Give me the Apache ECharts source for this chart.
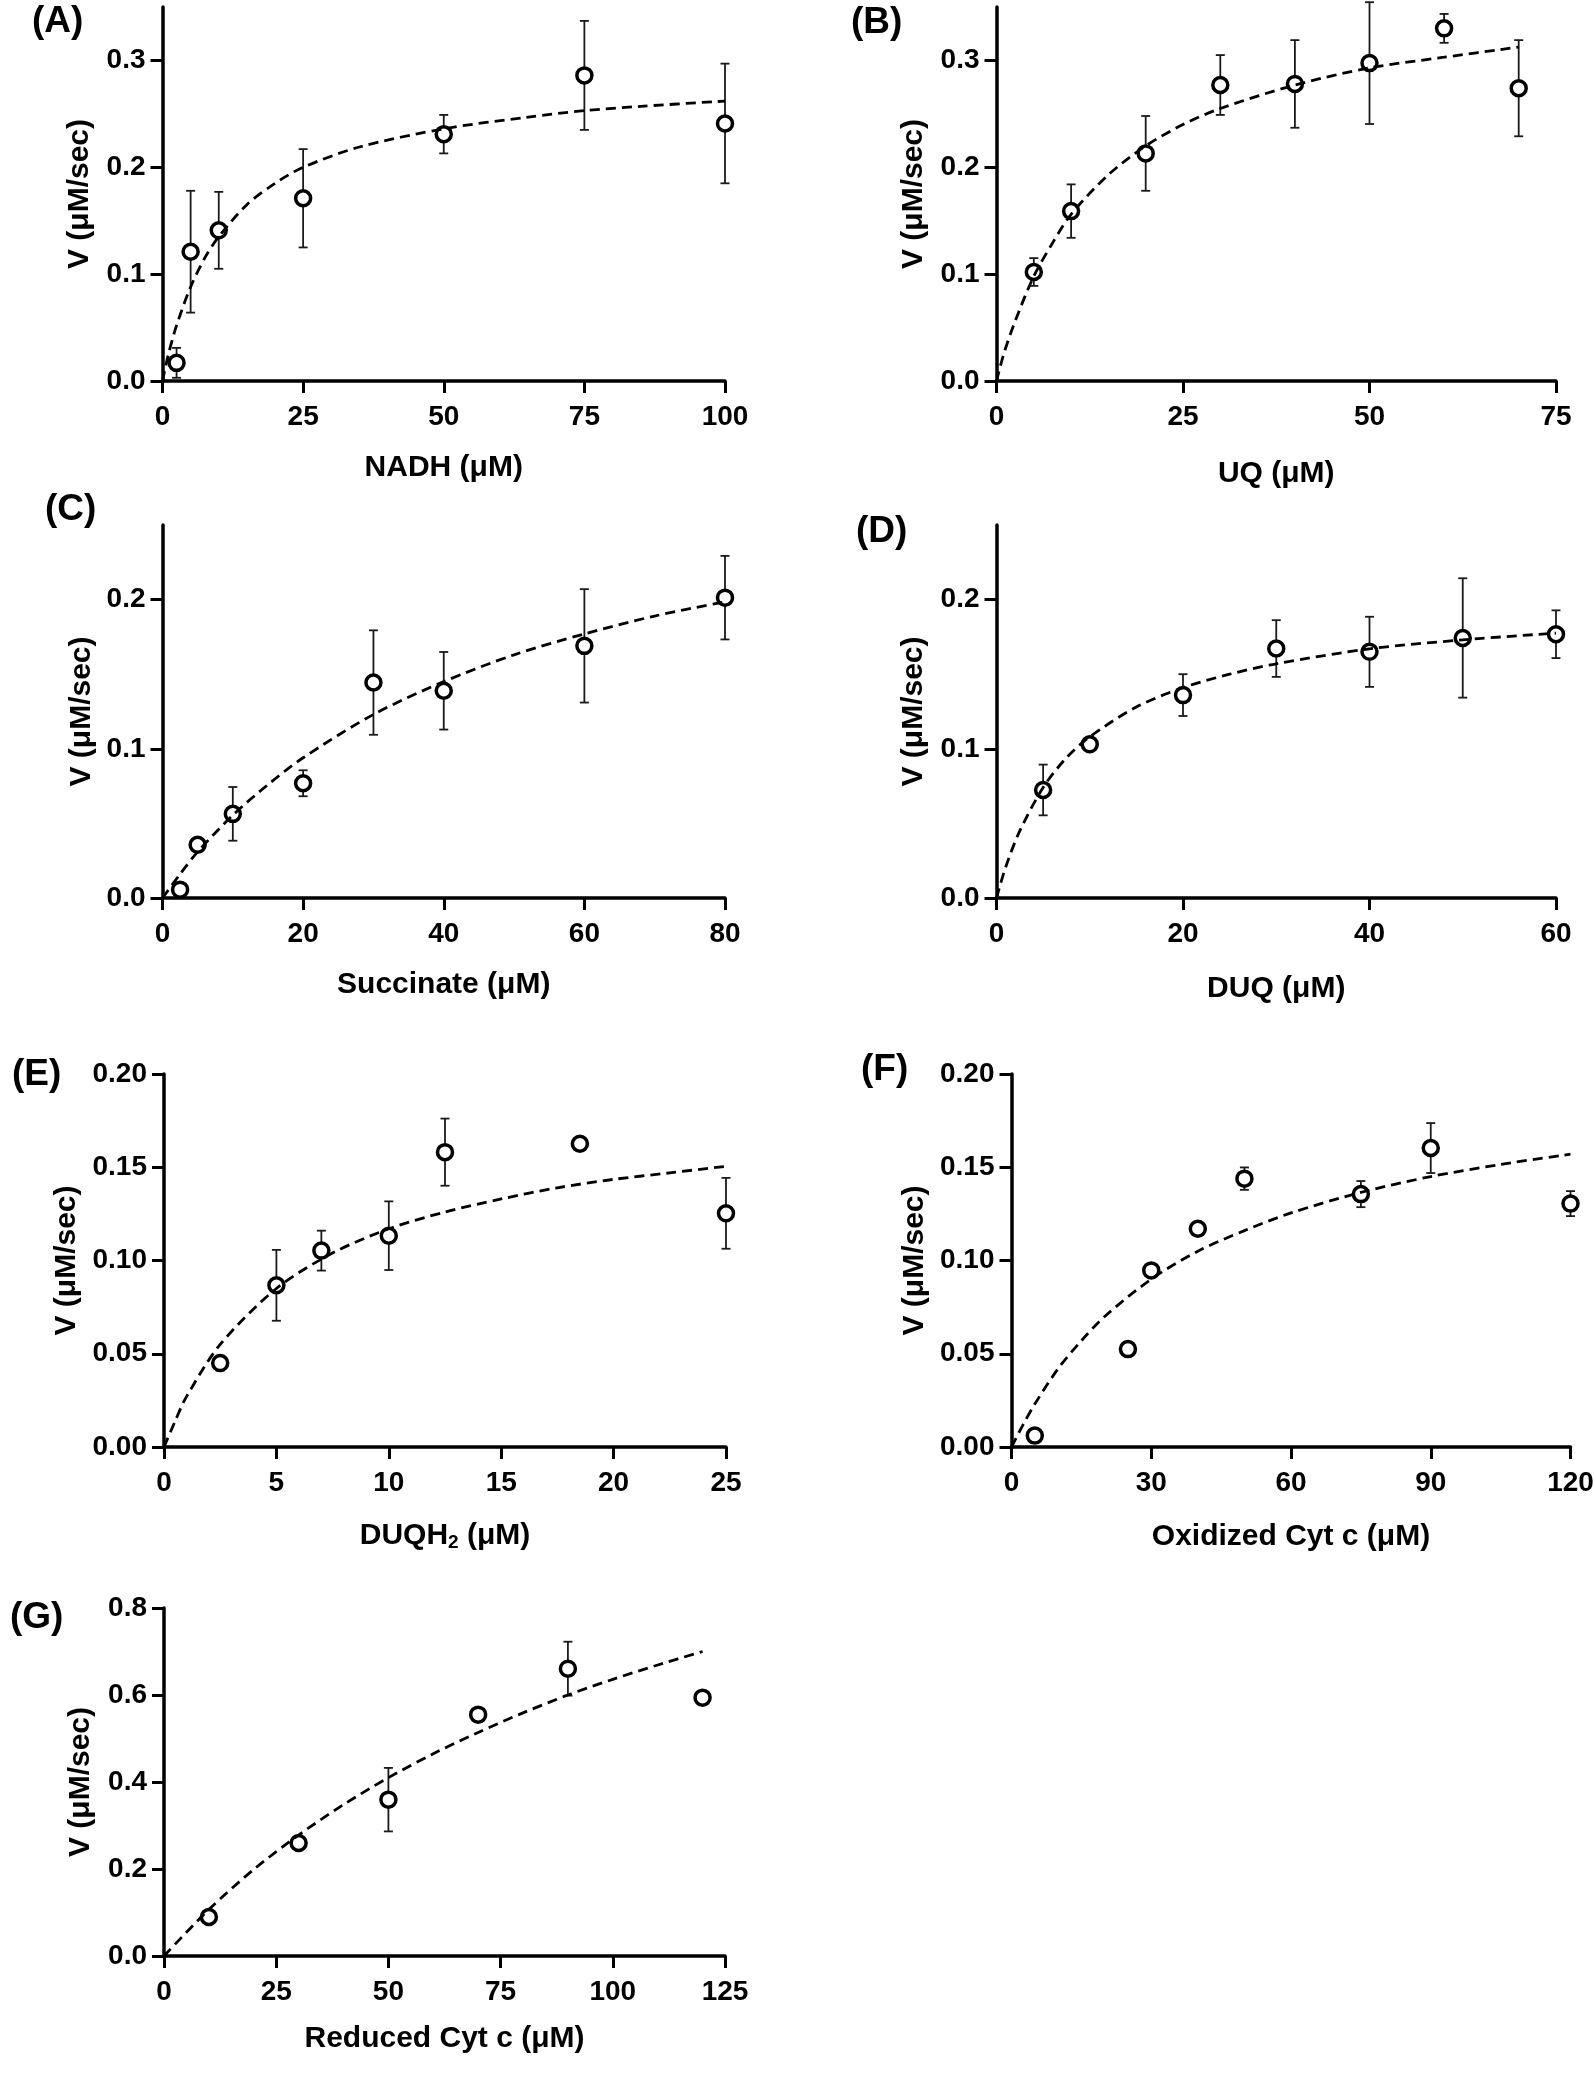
<!DOCTYPE html>
<html>
<head>
<meta charset="utf-8">
<script src="https://cdn.jsdelivr.net/npm/echarts@6/dist/echarts.min.js"></script>
<style>
html,body{margin:0;padding:0;background:#fff;}
#chart{width:1594px;height:2100px;}
</style>
</head>
<body>
<div id="chart"></div>
<script>
// ---------- Data ----------
// Panel A: NADH
const aX   = [2.5, 5, 10, 25, 50, 75, 100];
const aY   = [0.017, 0.121, 0.141, 0.171, 0.231, 0.286, 0.241];
const aErr = [0.014, 0.057, 0.036, 0.046, 0.018, 0.051, 0.056];
const aFitX = [0, 1, 2.5, 5, 7.5, 10, 15, 20, 25, 35, 50, 65, 75, 85, 100];
const aFitY = [0, 0.024, 0.052, 0.088, 0.115, 0.135, 0.165, 0.185, 0.2, 0.219, 0.236, 0.247, 0.253, 0.257, 0.262];

// Panel B: UQ
const bX   = [5, 10, 20, 30, 40, 50, 60, 70];
const bY   = [0.102, 0.159, 0.213, 0.277, 0.278, 0.2975, 0.330, 0.274];
const bErr = [0.013, 0.025, 0.035, 0.028, 0.041, 0.057, 0.0135, 0.045];
const bFitX = [0, 1, 2.5, 5, 7.5, 10, 15, 20, 25, 30, 40, 50, 60, 70];
const bFitY = [0, 0.026, 0.056, 0.098, 0.129, 0.156, 0.193, 0.22, 0.24, 0.255, 0.277, 0.293, 0.303, 0.3125];

// Panel C: Succinate
const cX   = [2.5, 5, 10, 20, 30, 40, 60, 80];
const cY   = [0.0056, 0.0357, 0.0564, 0.0769, 0.1444, 0.1389, 0.169, 0.2013];
const cErr = [0, 0, 0.018, 0.0087, 0.035, 0.026, 0.038, 0.028];
const cFitX = [0, 2.5, 5, 10, 15, 20, 30, 40, 50, 60, 70, 80];
const cFitY = [0, 0.016, 0.031, 0.0555, 0.076, 0.094, 0.123, 0.145, 0.163, 0.177, 0.189, 0.1985];

// Panel D: DUQ
const dX   = [5, 10, 20, 30, 40, 50, 60];
const dY   = [0.0724, 0.103, 0.136, 0.1672, 0.165, 0.1743, 0.1768];
const dErr = [0.017, 0.003, 0.014, 0.019, 0.0235, 0.04, 0.016];
const dFitX = [0, 1, 2.5, 5, 7.5, 10, 15, 20, 25, 30, 40, 50, 60];
const dFitY = [0, 0.021, 0.045, 0.074, 0.094, 0.108, 0.128, 0.141, 0.150, 0.157, 0.167, 0.173, 0.1775];

// Panel E: DUQH2
const eX   = [2.5, 5, 7, 10, 12.5, 18.5, 25];
const eY   = [0.045, 0.0867, 0.1053, 0.1133, 0.1581, 0.1626, 0.1253];
const eErr = [0.004, 0.019, 0.0107, 0.0184, 0.018, 0, 0.019];
const eFitX = [0, 0.5, 1, 2.5, 5, 7.5, 10, 12.5, 15, 17.5, 20, 22.5, 25];
const eFitY = [0, 0.014, 0.027, 0.055, 0.085, 0.104, 0.117, 0.126, 0.133, 0.139, 0.1435, 0.147, 0.1505];

// Panel F: Oxidized Cyt c
const fX   = [5, 25, 30, 40, 50, 75, 90, 120];
const fY   = [0.0061, 0.0525, 0.0947, 0.117, 0.1439, 0.1356, 0.1603, 0.1305];
const fErr = [0, 0, 0, 0, 0.006, 0.007, 0.0134, 0.0067];
const fFitX = [0, 2.5, 5, 10, 15, 20, 30, 40, 50, 60, 75, 90, 105, 120];
const fFitY = [0, 0.012, 0.023, 0.042, 0.057, 0.07, 0.09, 0.105, 0.116, 0.1255, 0.1365, 0.145, 0.1515, 0.157];

// Panel G: Reduced Cyt c
const gX   = [10, 30, 50, 70, 90, 120];
const gY   = [0.0897, 0.2598, 0.3594, 0.5548, 0.6605, 0.5939];
const gErr = [0, 0, 0.073, 0, 0.062, 0];
const gFitX = [0, 10, 20, 30, 40, 50, 60, 70, 80, 90, 100, 110, 120];
const gFitY = [0, 0.107, 0.199, 0.278, 0.348, 0.41, 0.465, 0.514, 0.559, 0.6, 0.636, 0.669, 0.7];

// Axis tick values
const yTicksAB = [0, 0.1, 0.2, 0.3];
const yTicksCD = [0, 0.1, 0.2];
const yTicksEF = [0, 0.05, 0.10, 0.15, 0.20];
const yTicksG  = [0, 0.2, 0.4, 0.6, 0.8];

const panelLabels = ['(A)', '(B)', '(C)', '(D)', '(E)', '(F)', '(G)'];
const xNames = ['NADH (\u03bcM)', 'UQ (\u03bcM)', 'Succinate (\u03bcM)', 'DUQ (\u03bcM)',
                'DUQH{sub|2} (\u03bcM)', 'Oxidized Cyt c (\u03bcM)', 'Reduced Cyt c (\u03bcM)'];
const yName = 'V (\u03bcM/sec)';

// ---------- Layout / style ----------
const FONT = '"Liberation Sans", Arial, Helvetica, sans-serif';
const panels = [
  {grid:{left:162.5, top:7,    width:562.5, height:374}, xMax:100, xInt:25, yMax:0.35, yTicks:yTicksAB, dig:1, xGap:72, yGap:68, lab:[32,24],
   x:aX, y:aY, e:aErr, fx:aFitX, fy:aFitY},
  {grid:{left:996.5, top:7,    width:559.5, height:374}, xMax:75,  xInt:25, yMax:0.35, yTicks:yTicksAB, dig:1, xGap:78, yGap:68, lab:[851,25],
   x:bX, y:bY, e:bErr, fx:bFitX, fy:bFitY},
  {grid:{left:162.5, top:525,  width:562.5, height:373}, xMax:80,  xInt:20, yMax:0.25, yTicks:yTicksCD, dig:1, xGap:72, yGap:66, lab:[45,512],
   x:cX, y:cY, e:cErr, fx:cFitX, fy:cFitY},
  {grid:{left:996.5, top:525,  width:559.5, height:373}, xMax:60,  xInt:20, yMax:0.25, yTicks:yTicksCD, dig:1, xGap:76, yGap:68, lab:[856,534],
   x:dX, y:dY, e:dErr, fx:dFitX, fy:dFitY},
  {grid:{left:164,   top:1074, width:562,   height:373}, xMax:25,  xInt:5,  yMax:0.20, yTicks:yTicksEF, dig:2, xGap:72, yGap:82, lab:[12,1077],
   x:eX, y:eY, e:eErr, fx:eFitX, fy:eFitY},
  {grid:{left:1011.5,top:1074, width:559,   height:373}, xMax:120, xInt:30, yMax:0.20, yTicks:yTicksEF, dig:2, xGap:75, yGap:82, lab:[861,1072],
   x:fX, y:fY, e:fErr, fx:fFitX, fy:fFitY},
  {grid:{left:164,   top:1608, width:561,   height:348}, xMax:125, xInt:25, yMax:0.8,  yTicks:yTicksG,  dig:1, xGap:68, yGap:68, lab:[10,1620],
   x:gX, y:gY, e:gErr, fx:gFitX, fy:gFitY}
];

const grids = [], xAxes = [], yAxes = [], series = [], graphics = [];

const axisLineStyle = {color:'#000', width:3.5};
const labelStyle = {color:'#000', fontSize:28, fontWeight:'bold', fontFamily:FONT};
const nameStyle = {color:'#000', fontSize:30, fontWeight:'bold', fontFamily:FONT,
  rich:{sub:{color:'#000', fontSize:19, fontWeight:'bold', fontFamily:FONT, padding:[14,0,0,0]}}};

panels.forEach((p, i) => {
  grids.push(Object.assign({containLabel:false, outerBoundsMode:'none'}, p.grid));
  xAxes.push({
    gridIndex:i, type:'value', min:0, max:p.xMax, interval:p.xInt,
    name:xNames[i], nameLocation:'middle', nameGap:p.xGap, nameTextStyle:nameStyle,
    axisLine:{show:true, onZero:false, lineStyle:axisLineStyle},
    axisTick:{show:true, length:12, lineStyle:{color:'#000', width:3}},
    axisLabel:Object.assign({margin:22}, labelStyle),
    splitLine:{show:false}
  });
  yAxes.push({
    gridIndex:i, type:'value', min:0, max:p.yMax,
    name:yName, nameLocation:'middle', nameGap:p.yGap, nameTextStyle:nameStyle,
    axisLine:{show:true, onZero:false, lineStyle:axisLineStyle},
    axisTick:{show:true, length:12, lineStyle:{color:'#000', width:3}, customValues:p.yTicks},
    axisLabel:Object.assign({margin:17, customValues:p.yTicks,
      formatter:(v) => Number(v).toFixed(p.dig)}, labelStyle),
    splitLine:{show:false}
  });
  // error bars
  series.push({
    type:'custom', xAxisIndex:i, yAxisIndex:i, z:2, silent:true, clip:false,
    encode:{x:0, y:1},
    data:p.x.map((v, k) => [v, p.y[k], p.e[k]]),
    renderItem:function(params, api){
      const x = api.value(0), y = api.value(1), e = api.value(2);
      if (!e) return {type:'group', children:[]};
      const t = api.coord([x, y + e]), b = api.coord([x, y - e]);
      const cap = 4.5;
      const st = {stroke:'#1a1a1a', lineWidth:1.8};
      return {type:'group', children:[
        {type:'line', shape:{x1:t[0], y1:t[1], x2:b[0], y2:b[1]}, style:st},
        {type:'line', shape:{x1:t[0]-cap, y1:t[1], x2:t[0]+cap, y2:t[1]}, style:st},
        {type:'line', shape:{x1:b[0]-cap, y1:b[1], x2:b[0]+cap, y2:b[1]}, style:st}
      ]};
    }
  });
  // data points
  series.push({
    type:'scatter', xAxisIndex:i, yAxisIndex:i, z:3, silent:true,
    symbol:'circle', symbolSize:15,
    itemStyle:{color:'#fff', borderColor:'#000', borderWidth:3.5, opacity:1},
    data:p.x.map((v, k) => [v, p.y[k]])
  });
  // fitted curve
  series.push({
    type:'line', xAxisIndex:i, yAxisIndex:i, z:4, silent:true,
    smooth:0.3, showSymbol:false, symbol:'none',
    lineStyle:{color:'#000', width:2.8, type:[10,6]},
    data:p.fx.map((v, k) => [v, p.fy[k]])
  });
  graphics.push({
    type:'text', left:p.lab[0], top:p.lab[1] - 21,
    style:{text:panelLabels[i], fill:'#000', fontSize:37, fontWeight:'bold', fontFamily:FONT}
  });
});

const chart = echarts.init(document.getElementById('chart'), null, {renderer:'canvas'});
chart.setOption({
  animation:false,
  backgroundColor:'#fff',
  grid:grids, xAxis:xAxes, yAxis:yAxes, series:series,
  graphic:graphics
});
</script>
</body>
</html>
